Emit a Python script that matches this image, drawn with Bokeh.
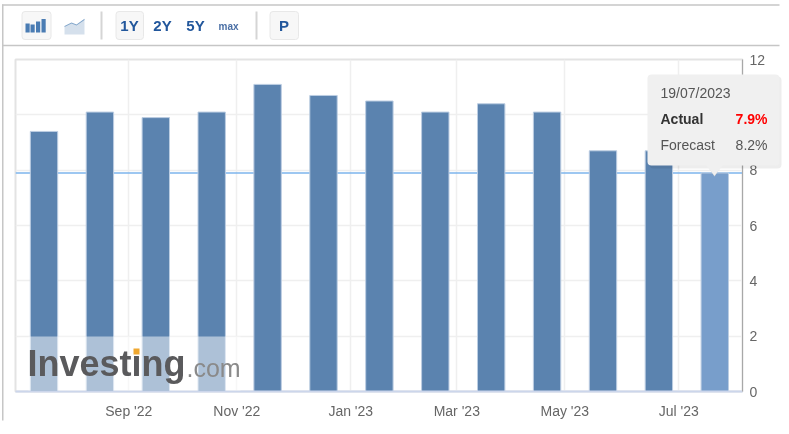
from bokeh.plotting import figure
from bokeh.embed import file_html
from bokeh.resources import INLINE
from bokeh.models import (ColumnDataSource, FixedTicker, Range1d, Span, Label,
                          BoxAnnotation, PolyAnnotation)

values = [9.4, 10.1, 9.9, 10.1, 11.1, 10.7, 10.5, 10.1, 10.4, 10.1, 8.7, 8.7, 7.9]
forecast_last = 8.2
date_last = "19/07/2023"
tick_pos = [1.517, 3.449, 5.488, 7.385, 9.317, 11.356]
tick_labels = ["Sep '22", "Nov '22", "Jan '23", "Mar '23", "May '23", "Jul '23"]
y_ticks = [0, 2, 4, 6, 8, 10, 12]

W, H = 789, 434
L, R, T, B = 15, 742, 59, 391
FIXED = {"position": "fixed", "left": "0px", "top": "0px"}

p = figure(width=W, height=H, output_backend="svg", toolbar_location=None,
           x_range=Range1d(-0.51, 12.496), y_range=Range1d(0, 12),
           y_axis_location="right",
           min_border_left=L, min_border_right=W - R,
           min_border_top=T, min_border_bottom=H - B)
p.styles = FIXED
p.background_fill_color = "white"
p.border_fill_color = "white"
p.outline_line_color = "#e3e3e3"
p.outline_line_width = 2

xa = p.xaxis[0]
xa.ticker = FixedTicker(ticks=tick_pos)
xa.major_label_overrides = dict(zip(tick_pos, tick_labels))
xa.major_tick_line_color = None
xa.minor_tick_line_color = None
xa.axis_line_color = "#ccd6eb"
xa.axis_line_width = 2
xa.major_label_text_font = "Liberation Sans"
xa.major_label_text_font_size = "14px"
xa.major_label_text_color = "#666666"
xa.major_label_standoff = 5

ya = p.yaxis[0]
ya.ticker = FixedTicker(ticks=y_ticks)
ya.major_tick_line_color = None
ya.minor_tick_line_color = None
ya.axis_line_color = "#a8a8a8"
ya.axis_line_width = 1
ya.major_label_text_font = "Liberation Sans"
ya.major_label_text_font_size = "14px"
ya.major_label_text_color = "#666666"
ya.major_label_standoff = 1

p.xgrid.ticker = FixedTicker(ticks=tick_pos)
p.ygrid.ticker = FixedTicker(ticks=y_ticks)
p.grid.grid_line_color = "#efefef"
p.grid.grid_line_width = 1.5

p.add_layout(Span(location=values[-1], dimension="width", line_color="#7cb5ec",
                  line_width=1.5, level="underlay"))

idx = list(range(len(values)))
src = ColumnDataSource(dict(x=idx, top=values,
                            c=["#5b83af"] * (len(values) - 1) + ["#789ecb"]))
p.vbar(x="x", top="top", width=0.49, source=src, fill_color="c",
       line_color="#bccde2", line_width=1)

# transparent page-pixel layer on top, for toolbar, watermark and tooltip
o = figure(width=W, height=H, output_backend="svg", toolbar_location=None,
           x_range=Range1d(0, W), y_range=Range1d(H, 0),
           x_axis_type=None, y_axis_type=None,
           min_border_left=0, min_border_right=0, min_border_top=0, min_border_bottom=0)
o.styles = FIXED
o.background_fill_color = None
o.border_fill_color = None
o.outline_line_color = None
o.grid.visible = False


def box(l, t, r, b, fill, alpha=1.0, line=None, radius=0):
    o.add_layout(BoxAnnotation(left=l, right=r, top=t, bottom=b,
                               fill_color=fill, fill_alpha=alpha,
                               line_color=line, line_alpha=1 if line else 0,
                               line_width=1, border_radius=radius))


def text(x, y, s, size, color, style="normal", align="left", font="Liberation Sans"):
    # a Label's alphabetic baseline sits lower than its anchor: compensate
    o.add_layout(Label(x=x, y=y - size * 0.38, text=s,
                       text_font=font, text_font_size=f"{size}px", text_color=color,
                       text_font_style=style, text_align=align, text_baseline="alphabetic"))


def poly(xs, ys, fill, alpha=1.0):
    o.add_layout(PolyAnnotation(xs=xs, ys=ys,
                                fill_color=fill, fill_alpha=alpha,
                                line_color=None, line_alpha=0))


# outer frame
box(1.5, 5.2, 779, 3.8, "#c6c6c6")
box(1.5, 45.7, 779, 44.3, "#c6c6c6")
box(1.5, 420, 3, 4, "#c6c6c6")

# toolbar
BLUE = "#22579c"
box(21.5, 11, 50.5, 39, "#f7f7f7", line="#e8e8e8", radius=3)
for l, t in [(25, 23), (30, 24), (35.5, 21), (41, 18.5)]:
    box(l, t, l + 4.2, 32, "#4a7cb3")
poly([64, 71, 76, 84, 84, 64], [26, 22.5, 24.5, 19, 34, 34], "#d5e0ec")
poly([64, 71, 76, 84, 84, 76, 71, 64], [25.5, 22, 24, 18.2, 19.4, 25, 23, 26.5], "#7ea3c9")
box(100, 39, 102, 11, "#d5d5d5")
box(115.5, 11, 143, 39, "#f7f7f7", line="#e8e8e8", radius=3)
text(129, 31, "1Y", 15, BLUE, "bold", "center")
text(162, 31, "2Y", 15, BLUE, "bold", "center")
text(195, 31, "5Y", 15, BLUE, "bold", "center")
text(228, 30, "max", 10, "#4a6fa5", "bold", "center")
box(255, 39, 257, 11, "#d5d5d5")
box(269.5, 11, 298, 39, "#f7f7f7", line="#e8e8e8", radius=3)
text(283.5, 31, "P", 15, BLUE, "bold", "center")

# watermark
box(28, 336, 240, B - 1, "#ffffff", 0.5)
text(27, 377, "Investing", 36, "#5a5a5c", "bold")
box(133, 348, 139, 354, "#f0a830")
text(186, 377, ".com", 25, "#8a8a8a")

# tooltip
box(649, 76, 781, 168, "#000000", 0.07, radius=4)
poly([706, 722, 714], [164, 164, 176], "#d9d9d9")
box(647, 74, 779, 165, "#f0f0f0", radius=4)
poly([705, 723, 714], [164, 164, 175], "#f0f0f0")
text(660, 98, date_last, 14, "#555555")
text(660, 124, "Actual", 14, "#333333", "bold")
text(767, 124, f"{values[-1]}%", 14, "#ff0000", "bold", "right")
text(660, 150, "Forecast", 14, "#555555")
text(767, 150, f"{forecast_last}%", 14, "#555555", "normal", "right")

open("out.html", "w").write(file_html([p, o], INLINE))
